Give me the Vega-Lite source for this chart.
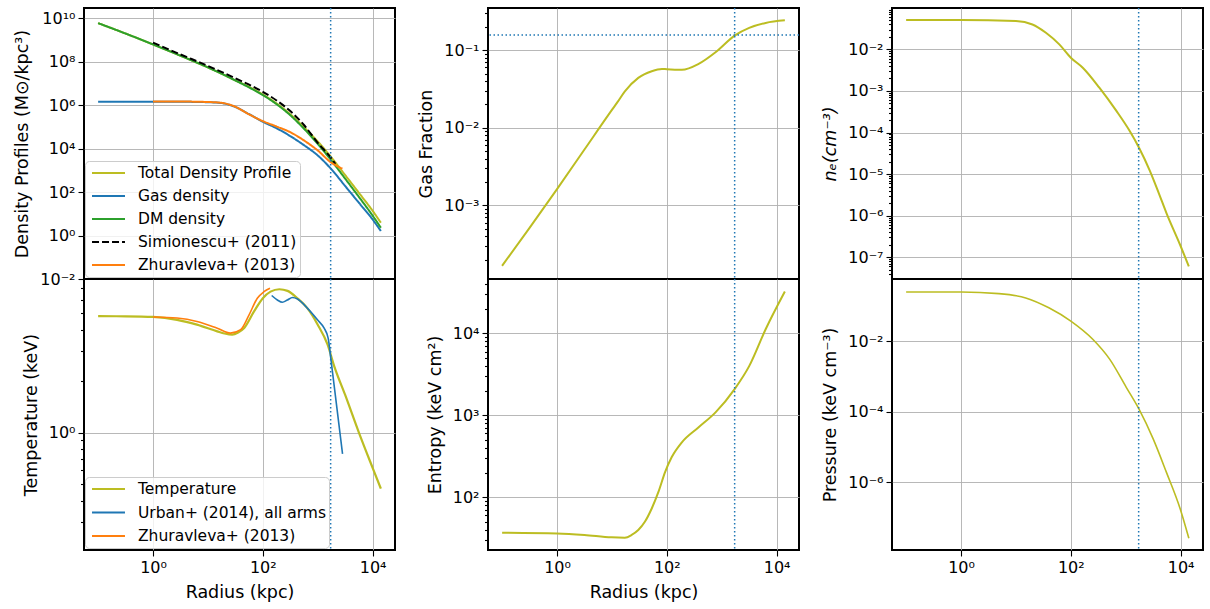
{
"$schema": "https://vega.github.io/schema/vega-lite/v6.json",
"padding": {"left": 12, "top": 0, "right": 0, "bottom": 0},
"autosize": {"type": "pad"},
"datasets": {
"dens": [
{"s":"Total Density Profile","r":0.1,"v":6.03e9},{"s":"Total Density Profile","r":0.316,"v":2.0e9},{"s":"Total Density Profile","r":1,"v":6.31e8},{"s":"Total Density Profile","r":3.16,"v":1.91e8},{"s":"Total Density Profile","r":10,"v":5.5e7},{"s":"Total Density Profile","r":17.8,"v":2.83e7},{"s":"Total Density Profile","r":31.6,"v":1.39e7},{"s":"Total Density Profile","r":56.2,"v":7.0e6},{"s":"Total Density Profile","r":100,"v":3.12e6},{"s":"Total Density Profile","r":178,"v":1.21e6},{"s":"Total Density Profile","r":316,"v":3.85e5},{"s":"Total Density Profile","r":562,"v":9.75e4},{"s":"Total Density Profile","r":1000,"v":2.15e4},{"s":"Total Density Profile","r":1778,"v":3940},{"s":"Total Density Profile","r":3162,"v":607},{"s":"Total Density Profile","r":5623,"v":92.7},{"s":"Total Density Profile","r":10000,"v":13.8},{"s":"Total Density Profile","r":14125,"v":3.91},
{"s":"Gas density","r":0.1,"v":1.445e6},{"s":"Gas density","r":0.316,"v":1.445e6},{"s":"Gas density","r":1,"v":1.445e6},{"s":"Gas density","r":3.16,"v":1.44e6},{"s":"Gas density","r":10,"v":1.38e6},{"s":"Gas density","r":17.8,"v":1.26e6},{"s":"Gas density","r":31.6,"v":8.3e5},{"s":"Gas density","r":56.2,"v":3.89e5},{"s":"Gas density","r":100,"v":1.74e5},{"s":"Gas density","r":178,"v":8.7e4},{"s":"Gas density","r":316,"v":3.8e4},{"s":"Gas density","r":562,"v":1.45e4},{"s":"Gas density","r":1000,"v":4900},{"s":"Gas density","r":1778,"v":1122},{"s":"Gas density","r":3162,"v":190.5},{"s":"Gas density","r":5623,"v":32.4},{"s":"Gas density","r":10000,"v":5.5},{"s":"Gas density","r":14125,"v":1.62},
{"s":"DM density","r":0.1,"v":6.03e9},{"s":"DM density","r":0.316,"v":2.0e9},{"s":"DM density","r":1,"v":6.31e8},{"s":"DM density","r":3.16,"v":1.91e8},{"s":"DM density","r":10,"v":5.5e7},{"s":"DM density","r":17.8,"v":2.82e7},{"s":"DM density","r":31.6,"v":1.38e7},{"s":"DM density","r":56.2,"v":6.6e6},{"s":"DM density","r":100,"v":2.95e6},{"s":"DM density","r":178,"v":1.12e6},{"s":"DM density","r":316,"v":3.47e5},{"s":"DM density","r":562,"v":8.3e4},{"s":"DM density","r":1000,"v":1.66e4},{"s":"DM density","r":1778,"v":2820},{"s":"DM density","r":3162,"v":417},{"s":"DM density","r":5623,"v":60.3},{"s":"DM density","r":10000,"v":8.3},{"s":"DM density","r":14125,"v":2.29},
{"s":"Simionescu+ (2011)","r":1,"v":7.6e8},{"s":"Simionescu+ (2011)","r":3.16,"v":2.19e8},{"s":"Simionescu+ (2011)","r":10,"v":6.46e7},{"s":"Simionescu+ (2011)","r":31.6,"v":1.74e7},{"s":"Simionescu+ (2011)","r":100,"v":4.17e6},{"s":"Simionescu+ (2011)","r":178,"v":1.66e6},{"s":"Simionescu+ (2011)","r":316,"v":5.37e5},{"s":"Simionescu+ (2011)","r":562,"v":1.23e5},{"s":"Simionescu+ (2011)","r":1000,"v":1.86e4},{"s":"Simionescu+ (2011)","r":1778,"v":3550},{"s":"Simionescu+ (2011)","r":2089,"v":2000},
{"s":"Zhuravleva+ (2013)","r":1,"v":1.48e6},{"s":"Zhuravleva+ (2013)","r":3.16,"v":1.48e6},{"s":"Zhuravleva+ (2013)","r":10,"v":1.41e6},{"s":"Zhuravleva+ (2013)","r":17.8,"v":1.29e6},{"s":"Zhuravleva+ (2013)","r":31.6,"v":8.5e5},{"s":"Zhuravleva+ (2013)","r":56.2,"v":3.8e5},{"s":"Zhuravleva+ (2013)","r":100,"v":1.86e5},{"s":"Zhuravleva+ (2013)","r":178,"v":1.05e5},{"s":"Zhuravleva+ (2013)","r":316,"v":5.75e4},{"s":"Zhuravleva+ (2013)","r":562,"v":2.4e4},{"s":"Zhuravleva+ (2013)","r":1000,"v":8300},{"s":"Zhuravleva+ (2013)","r":1778,"v":2240},{"s":"Zhuravleva+ (2013)","r":2818,"v":1200}
],
"temp": [
{"s":"Temperature","r":0.1,"v":4.8},{"s":"Temperature","r":0.316,"v":4.79},{"s":"Temperature","r":1,"v":4.75},{"s":"Temperature","r":2.74,"v":4.57},{"s":"Temperature","r":6.31,"v":4.28},{"s":"Temperature","r":14.8,"v":3.91},{"s":"Temperature","r":20,"v":3.8},{"s":"Temperature","r":27.7,"v":3.74},{"s":"Temperature","r":35.5,"v":3.85},{"s":"Temperature","r":45.3,"v":4.08},{"s":"Temperature","r":69.2,"v":5.12},{"s":"Temperature","r":100,"v":6.11},{"s":"Temperature","r":138,"v":6.68},{"s":"Temperature","r":200,"v":6.9},{"s":"Temperature","r":282,"v":6.75},{"s":"Temperature","r":427,"v":6.11},{"s":"Temperature","r":646,"v":5.35},{"s":"Temperature","r":1000,"v":4.28},{"s":"Temperature","r":1514,"v":3.27},{"s":"Temperature","r":1995,"v":2.45},{"s":"Temperature","r":3162,"v":1.66},{"s":"Temperature","r":5623,"v":1.0},{"s":"Temperature","r":10000,"v":0.622},{"s":"Temperature","r":14125,"v":0.47},
{"s":"Urban+ (2014), all arms","r":145,"v":6.34},{"s":"Urban+ (2014), all arms","r":184,"v":5.97},{"s":"Urban+ (2014), all arms","r":227,"v":5.79},{"s":"Urban+ (2014), all arms","r":280,"v":5.97},{"s":"Urban+ (2014), all arms","r":347,"v":6.17},{"s":"Urban+ (2014), all arms","r":427,"v":6.05},{"s":"Urban+ (2014), all arms","r":646,"v":5.35},{"s":"Urban+ (2014), all arms","r":989,"v":4.57},{"s":"Urban+ (2014), all arms","r":1309,"v":4.08},{"s":"Urban+ (2014), all arms","r":1549,"v":3.57},{"s":"Urban+ (2014), all arms","r":1738,"v":2.69},{"s":"Urban+ (2014), all arms","r":2831,"v":0.751},
{"s":"Zhuravleva+ (2013)","r":1,"v":4.75},{"s":"Zhuravleva+ (2013)","r":2.74,"v":4.68},{"s":"Zhuravleva+ (2013)","r":6.31,"v":4.47},{"s":"Zhuravleva+ (2013)","r":14.8,"v":4.08},{"s":"Zhuravleva+ (2013)","r":25.7,"v":3.82},{"s":"Zhuravleva+ (2013)","r":39.4,"v":4.0},{"s":"Zhuravleva+ (2013)","r":56.2,"v":4.89},{"s":"Zhuravleva+ (2013)","r":79.4,"v":6.11},{"s":"Zhuravleva+ (2013)","r":105,"v":6.68},{"s":"Zhuravleva+ (2013)","r":135,"v":7.0}
],
"fgas": [
{"r":0.1,"v":1.66e-4},{"r":0.316,"v":5.13e-4},{"r":1,"v":1.62e-3},{"r":3.16,"v":5.25e-3},{"r":10,"v":0.017},{"r":12.6,"v":0.0214},{"r":17.2,"v":0.0295},{"r":30.2,"v":0.0441},{"r":53.1,"v":0.0537},{"r":81.3,"v":0.0575},{"r":100,"v":0.0569},{"r":188,"v":0.056},{"r":380,"v":0.0667},{"r":771,"v":0.0942},{"r":1718,"v":0.1545},{"r":3162,"v":0.194},{"r":6310,"v":0.225},{"r":14125,"v":0.243}
],
"ent": [
{"r":0.1,"v":36.9},{"r":1,"v":36.2},{"r":3.16,"v":34.7},{"r":9.8,"v":32.4},{"r":17.2,"v":32.1},{"r":22.9,"v":34.7},{"r":30.2,"v":39.8},{"r":39.8,"v":50.1},{"r":53.1,"v":72.8},{"r":70.3,"v":116},{"r":93.3,"v":204},{"r":123,"v":309},{"r":188,"v":468},{"r":380,"v":714},{"r":771,"v":1086},{"r":1718,"v":2089},{"r":3162,"v":3981},{"r":6310,"v":11220},{"r":14125,"v":32360}
],
"ne": [
{"r":0.1,"v":0.0506},{"r":1,"v":0.0506},{"r":10,"v":0.0479},{"r":20,"v":0.0398},{"r":35.2,"v":0.0251},{"r":61.7,"v":0.0132},{"r":100,"v":0.00631},{"r":165,"v":0.00363},{"r":331,"v":0.0012},{"r":676,"v":3.31e-4},{"r":1175,"v":1.1e-4},{"r":1738,"v":4.37e-5},{"r":2754,"v":1.2e-5},{"r":3981,"v":3.55e-6},{"r":5495,"v":1.17e-6},{"r":9772,"v":2.0e-7},{"r":14125,"v":6.03e-8}
],
"pres": [
{"r":0.1,"v":0.245},{"r":1,"v":0.245},{"r":4.9,"v":0.22},{"r":15.1,"v":0.166},{"r":39.8,"v":0.0871},{"r":100,"v":0.0366},{"r":251,"v":0.0112},{"r":513,"v":3.02e-3},{"r":1023,"v":4.9e-4},{"r":1738,"v":1.2e-4},{"r":3162,"v":1.7e-5},{"r":5495,"v":1.95e-6},{"r":9772,"v":1.82e-7},{"r":14125,"v":2.6e-8}
],
"rvir": [{"r":1720}],
"fb": [{"v":0.157}]
},
"columns": 3,
"spacing": {"row": 0, "column": 93},
"bounds": "flush",
"resolve": {"scale": {"x": "independent", "y": "independent", "color": "independent", "strokeDash": "independent"}},
"concat": [
{
"width": 311, "height": 271,
"layer": [
{
"data": {"name": "dens"},
"encoding": {
"x": {"field": "r", "type": "quantitative", "scale": {"type": "log", "domain": [0.0553, 25560], "nice": false}, "axis": {"values": [1, 100, 10000], "labels": false, "ticks": false, "title": null}},
"y": {"field": "v", "type": "quantitative", "scale": {"type": "log", "domain": [0.01, 3e10], "nice": false}, "axis": {"values": [0.01, 1, 100, 10000, 1000000, 100000000, 10000000000], "labelExpr": "datum.value==0.01?'10⁻²':datum.value==1?'10⁰':datum.value==100?'10²':datum.value==10000?'10⁴':datum.value==1000000?'10⁶':datum.value==100000000?'10⁸':'10¹⁰'", "title": "Density Profiles (M⊙/kpc³)"}},
"color": {"field": "s", "type": "nominal", "scale": {"domain": ["Total Density Profile", "Gas density", "DM density", "Simionescu+ (2011)", "Zhuravleva+ (2013)"], "range": ["#bcbd22", "#1f77b4", "#2ca02c", "black", "#ff7f0e"]}, "legend": {"title": null, "orient": "none", "legendX": 1, "legendY": 153, "symbolType": "M-2.06,0H2.06", "symbolSize": 256, "symbolStrokeWidth": 2, "symbolOffset": 11.5, "labelOffset": 20.5, "padding": 3, "rowPadding": 5}},
"strokeDash": {"field": "s", "type": "nominal", "scale": {"domain": ["Total Density Profile", "Gas density", "DM density", "Simionescu+ (2011)", "Zhuravleva+ (2013)"], "range": [[1, 0], [1, 0], [1, 0], [7, 3], [1, 0]]}, "legend": {"title": null, "orient": "none", "legendX": 1, "legendY": 153, "symbolType": "M-2.06,0H2.06", "symbolSize": 256, "symbolStrokeWidth": 2, "symbolOffset": 11.5, "labelOffset": 20.5, "padding": 3, "rowPadding": 5}}
},
"layer": [
{"transform": [{"filter": "datum.s == 'Total Density Profile'"}], "mark": {"type": "line", "strokeWidth": 2, "interpolate": "monotone"}},
{"transform": [{"filter": "datum.s == 'Gas density'"}], "mark": {"type": "line", "strokeWidth": 2, "interpolate": "monotone"}},
{"transform": [{"filter": "datum.s == 'DM density'"}], "mark": {"type": "line", "strokeWidth": 2, "interpolate": "monotone"}},
{"transform": [{"filter": "datum.s == 'Simionescu+ (2011)'"}], "mark": {"type": "line", "strokeWidth": 2, "interpolate": "monotone"}},
{"transform": [{"filter": "datum.s == 'Zhuravleva+ (2013)'"}], "mark": {"type": "line", "strokeWidth": 2, "interpolate": "monotone"}}
]
},
{
"data": {"name": "rvir"},
"mark": {"type": "rule", "color": "#1f77b4", "strokeWidth": 1.5, "strokeDash": [1.5, 2.5]},
"encoding": {"x": {"field": "r", "type": "quantitative", "scale": {"type": "log", "domain": [0.0553, 25560], "nice": false}, "axis": {"values": [1, 100, 10000], "labels": false, "ticks": false, "title": null}}}
}
]
},
{
"width": 311, "height": 271,
"layer": [
{
"data": {"name": "fgas"},
"mark": {"type": "line", "color": "#bcbd22", "strokeWidth": 2, "interpolate": "monotone"},
"encoding": {
"x": {"field": "r", "type": "quantitative", "scale": {"type": "log", "domain": [0.0553, 25560], "nice": false}, "axis": {"values": [1, 100, 10000], "labels": false, "ticks": false, "title": null}},
"y": {"field": "v", "type": "quantitative", "scale": {"type": "log", "domain": [0.0001122, 0.3508], "nice": false}, "axis": {"values": [0.0002,0.0003,0.0004,0.0005,0.0006,0.0007,0.0008,0.0009,0.001,0.002,0.003,0.004,0.005,0.006,0.007,0.008,0.009,0.01,0.02,0.03,0.04,0.05,0.06,0.07,0.08,0.09,0.1,0.2,0.3], "labelExpr": "datum.value==0.1?'10⁻¹':datum.value==0.01?'10⁻²':datum.value==0.001?'10⁻³':''", "gridOpacity": {"condition": {"test": "datum.value==0.1||datum.value==0.01||datum.value==0.001", "value": 1}, "value": 0}, "tickSize": {"condition": {"test": "datum.value==0.1||datum.value==0.01||datum.value==0.001", "value": 6}, "value": 3.5}, "title": "Gas Fraction"}}
}
},
{
"data": {"name": "rvir"},
"mark": {"type": "rule", "color": "#1f77b4", "strokeWidth": 1.5, "strokeDash": [1.5, 2.5]},
"encoding": {"x": {"field": "r", "type": "quantitative", "scale": {"type": "log", "domain": [0.0553, 25560], "nice": false}, "axis": {"values": [1, 100, 10000], "labels": false, "ticks": false, "title": null}}}
},
{
"data": {"name": "fb"},
"mark": {"type": "rule", "color": "#1f77b4", "strokeWidth": 1.5, "strokeDash": [1.5, 2.5]},
"encoding": {"y": {"field": "v", "type": "quantitative", "scale": {"type": "log", "domain": [0.0001122, 0.3508], "nice": false}, "axis": {"values": [0.0002,0.0003,0.0004,0.0005,0.0006,0.0007,0.0008,0.0009,0.001,0.002,0.003,0.004,0.005,0.006,0.007,0.008,0.009,0.01,0.02,0.03,0.04,0.05,0.06,0.07,0.08,0.09,0.1,0.2,0.3], "labelExpr": "datum.value==0.1?'10⁻¹':datum.value==0.01?'10⁻²':datum.value==0.001?'10⁻³':''", "gridOpacity": {"condition": {"test": "datum.value==0.1||datum.value==0.01||datum.value==0.001", "value": 1}, "value": 0}, "tickSize": {"condition": {"test": "datum.value==0.1||datum.value==0.01||datum.value==0.001", "value": 6}, "value": 3.5}, "title": "Gas Fraction"}}}
}
]
},
{
"width": 311, "height": 271,
"layer": [
{
"data": {"name": "ne"},
"mark": {"type": "line", "color": "#bcbd22", "strokeWidth": 2, "interpolate": "monotone"},
"encoding": {
"x": {"field": "r", "type": "quantitative", "scale": {"type": "log", "domain": [0.0553, 25560], "nice": false}, "axis": {"values": [1, 100, 10000], "labels": false, "ticks": false, "title": null}},
"y": {"field": "v", "type": "quantitative", "scale": {"type": "log", "domain": [3.0e-8, 0.099], "nice": false}, "axis": {"values": [4e-8,5e-8,6e-8,7e-8,8e-8,9e-8,1e-7,2e-7,3e-7,4e-7,5e-7,6e-7,7e-7,8e-7,9e-7,1e-6,2e-6,3e-6,4e-6,5e-6,6e-6,7e-6,8e-6,9e-6,1e-5,2e-5,3e-5,4e-5,5e-5,6e-5,7e-5,8e-5,9e-5,0.0001,0.0002,0.0003,0.0004,0.0005,0.0006,0.0007,0.0008,0.0009,0.001,0.002,0.003,0.004,0.005,0.006,0.007,0.008,0.009,0.01,0.02,0.03,0.04,0.05,0.06,0.07,0.08,0.09], "labelExpr": "abs(log(datum.value)/LN10-round(log(datum.value)/LN10))>0.001?'':round(log(datum.value)/LN10)==-2?'10⁻²':round(log(datum.value)/LN10)==-3?'10⁻³':round(log(datum.value)/LN10)==-4?'10⁻⁴':round(log(datum.value)/LN10)==-5?'10⁻⁵':round(log(datum.value)/LN10)==-6?'10⁻⁶':'10⁻⁷'", "gridOpacity": {"condition": {"test": "abs(log(datum.value)/LN10-round(log(datum.value)/LN10))<0.001", "value": 1}, "value": 0}, "tickSize": {"condition": {"test": "abs(log(datum.value)/LN10-round(log(datum.value)/LN10))<0.001", "value": 6}, "value": 3.5}, "title": "nₑ(cm⁻³)", "titleFontStyle": "italic"}}
}
},
{
"data": {"name": "rvir"},
"mark": {"type": "rule", "color": "#1f77b4", "strokeWidth": 1.5, "strokeDash": [1.5, 2.5]},
"encoding": {"x": {"field": "r", "type": "quantitative", "scale": {"type": "log", "domain": [0.0553, 25560], "nice": false}, "axis": {"values": [1, 100, 10000], "labels": false, "ticks": false, "title": null}}}
}
]
},
{
"width": 311, "height": 271,
"layer": [
{
"data": {"name": "temp"},
"encoding": {
"x": {"field": "r", "type": "quantitative", "scale": {"type": "log", "domain": [0.0553, 25560], "nice": false}, "axis": {"values": [1, 100, 10000], "labelExpr": "datum.value==1?'10⁰':datum.value==100?'10²':'10⁴'", "title": "Radius (kpc)"}},
"y": {"field": "v", "type": "quantitative", "scale": {"type": "log", "domain": [0.2055, 7.92], "nice": false}, "axis": {"values": [0.3,0.4,0.5,0.6,0.7,0.8,0.9,1,2,3,4,5,6,7], "labelExpr": "datum.value==1?'10⁰':''", "gridOpacity": {"condition": {"test": "datum.value==1", "value": 1}, "value": 0}, "tickSize": {"condition": {"test": "datum.value==1", "value": 6}, "value": 3.5}, "title": "Temperature (keV)"}},
"color": {"field": "s", "type": "nominal", "scale": {"domain": ["Temperature", "Urban+ (2014), all arms", "Zhuravleva+ (2013)"], "range": ["#bcbd22", "#1f77b4", "#ff7f0e"]}, "legend": {"title": null, "orient": "none", "legendX": 1, "legendY": 198, "symbolType": "M-2.06,0H2.06", "symbolSize": 256, "symbolStrokeWidth": 2, "symbolOffset": 11.5, "labelOffset": 20.5, "padding": 3, "rowPadding": 5.5}}
},
"layer": [
{"transform": [{"filter": "datum.s == 'Temperature'"}], "mark": {"type": "line", "strokeWidth": 2.2, "interpolate": "monotone"}},
{"transform": [{"filter": "datum.s == 'Urban+ (2014), all arms'"}], "mark": {"type": "line", "strokeWidth": 1.6, "interpolate": "monotone"}},
{"transform": [{"filter": "datum.s == 'Zhuravleva+ (2013)'"}], "mark": {"type": "line", "strokeWidth": 1.6, "interpolate": "monotone"}}
]
},
{
"data": {"name": "rvir"},
"mark": {"type": "rule", "color": "#1f77b4", "strokeWidth": 1.5, "strokeDash": [1.5, 2.5]},
"encoding": {"x": {"field": "r", "type": "quantitative", "scale": {"type": "log", "domain": [0.0553, 25560], "nice": false}, "axis": {"values": [1, 100, 10000], "labelExpr": "datum.value==1?'10⁰':datum.value==100?'10²':'10⁴'", "title": "Radius (kpc)"}}}
}
]
},
{
"width": 311, "height": 271,
"layer": [
{
"data": {"name": "ent"},
"mark": {"type": "line", "color": "#bcbd22", "strokeWidth": 2, "interpolate": "monotone"},
"encoding": {
"x": {"field": "r", "type": "quantitative", "scale": {"type": "log", "domain": [0.0553, 25560], "nice": false}, "axis": {"values": [1, 100, 10000], "labelExpr": "datum.value==1?'10⁰':datum.value==100?'10²':'10⁴'", "title": "Radius (kpc)"}},
"y": {"field": "v", "type": "quantitative", "scale": {"type": "log", "domain": [22.7, 46030], "nice": false}, "axis": {"values": [30,40,50,60,70,80,90,100,200,300,400,500,600,700,800,900,1000,2000,3000,4000,5000,6000,7000,8000,9000,10000,20000,30000,40000], "labelExpr": "datum.value==100?'10²':datum.value==1000?'10³':datum.value==10000?'10⁴':''", "gridOpacity": {"condition": {"test": "datum.value==100||datum.value==1000||datum.value==10000", "value": 1}, "value": 0}, "tickSize": {"condition": {"test": "datum.value==100||datum.value==1000||datum.value==10000", "value": 6}, "value": 3.5}, "title": "Entropy (keV cm²)"}}
}
},
{
"data": {"name": "rvir"},
"mark": {"type": "rule", "color": "#1f77b4", "strokeWidth": 1.5, "strokeDash": [1.5, 2.5]},
"encoding": {"x": {"field": "r", "type": "quantitative", "scale": {"type": "log", "domain": [0.0553, 25560], "nice": false}, "axis": {"values": [1, 100, 10000], "labelExpr": "datum.value==1?'10⁰':datum.value==100?'10²':'10⁴'", "title": "Radius (kpc)"}}}
}
]
},
{
"width": 311, "height": 271,
"layer": [
{
"data": {"name": "pres"},
"mark": {"type": "line", "color": "#bcbd22", "strokeWidth": 1.6, "interpolate": "monotone"},
"encoding": {
"x": {"field": "r", "type": "quantitative", "scale": {"type": "log", "domain": [0.0553, 25560], "nice": false}, "axis": {"values": [1, 100, 10000], "labelExpr": "datum.value==1?'10⁰':datum.value==100?'10²':'10⁴'", "title": null}},
"y": {"field": "v", "type": "quantitative", "scale": {"type": "log", "domain": [1.216e-8, 0.569], "nice": false}, "axis": {"values": [0.000001, 0.0001, 0.01], "labelExpr": "datum.value==0.01?'10⁻²':datum.value==0.0001?'10⁻⁴':'10⁻⁶'", "title": "Pressure (keV cm⁻³)"}}
}
},
{
"data": {"name": "rvir"},
"mark": {"type": "rule", "color": "#1f77b4", "strokeWidth": 1.5, "strokeDash": [1.5, 2.5]},
"encoding": {"x": {"field": "r", "type": "quantitative", "scale": {"type": "log", "domain": [0.0553, 25560], "nice": false}, "axis": {"values": [1, 100, 10000], "labelExpr": "datum.value==1?'10⁰':datum.value==100?'10²':'10⁴'", "title": null}}}
}
]
}
],
"config": {
"font": "DejaVu Sans",
"background": "white",
"view": {"stroke": "black", "strokeWidth": 2},
"axis": {"domain": false, "grid": true, "gridColor": "#b0b0b0", "gridWidth": 0.9, "tickColor": "black", "tickWidth": 1.1, "tickSize": 6, "labelFont": "DejaVu Sans", "labelFontSize": 16, "labelColor": "black", "labelPadding": 3, "labelOverlap": false, "labelFlush": false, "labelBound": false, "titleFont": "DejaVu Sans", "titleFontSize": 17.5, "titleFontWeight": "normal", "titleColor": "black", "titlePadding": 8},
"legend": {"labelFont": "DejaVu Sans", "labelFontSize": 15.5, "labelColor": "black", "fillColor": "rgba(255,255,255,0.8)", "strokeColor": "#cccccc", "cornerRadius": 4, "labelLimit": 400}
}
}
